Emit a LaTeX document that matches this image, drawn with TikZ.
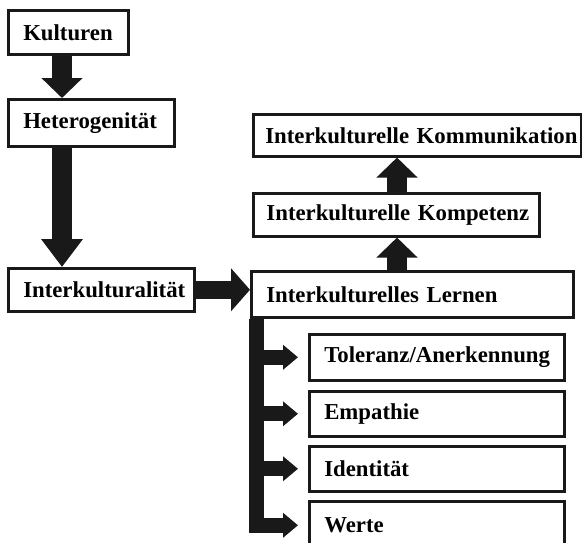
\documentclass[tikz,border=0pt]{standalone}
\usepackage{fontspec}
\setmainfont{Liberation Serif}
\usetikzlibrary{arrows.meta,calc}

\begin{document}
\begin{tikzpicture}[x=0.025cm, y=-0.025cm,
    box/.style={draw=black!90, line width=1.8pt, anchor=north west, align=left,
        inner xsep=0.375cm, inner ysep=0pt, font=\fontsize{16.2}{18}\selectfont\bfseries,
        execute at begin node={\hbox\bgroup}, execute at end node={\egroup}},
    fat/.style={draw=black!90, line width=0.5cm, -{Triangle[width=1cm,length=0.5cm]}},
    slim/.style={draw=black!90, line width=0.375cm, -{Triangle[width=0.6cm,length=0.375cm]}}]
    \useasboundingbox (0,0) rectangle (582,542);

    % Left column
    \node[box, text width=2.25cm, minimum height=1.1cm] (kult) at (7,9) {Kulturen};
    \node[box, text width=3.4cm, minimum height=1.175cm] (het) at (7,98) {Heterogenität};
    \node[box, text width=3.9cm, minimum height=1.075cm] (ikult) at (7,267) {Interkulturalität};

    % Right column
    \node[box, text width=7.6cm, inner xsep=0.3cm, minimum height=1.05cm] (komm) at (252,113) {Interkulturelle Kommunikation};
    \node[box, text width=6.5cm, inner xsep=0.33cm, minimum height=1.075cm] (komp) at (252,192) {Interkulturelle Kompetenz};
    \node[box, text width=7.3cm, minimum height=1.15cm] (lern) at (250,270) {Interkulturelles Lernen};

    % Aspects
    \node[box, text width=5.625cm, minimum height=1.15cm] (tol) at (308,333) {Toleranz/Anerkennung};
    \node[box, text width=5.625cm, minimum height=1.125cm] (emp) at (308,390) {Empathie};
    \node[box, text width=5.625cm, minimum height=1.125cm] (ident) at (308,445) {Identität};
    \node[box, text width=5.625cm, minimum height=1.2cm] (wert) at (308,500) {Werte};

    % Arrows
    \coordinate (spine) at (62,0);
    \coordinate (riser) at (397,0);
    \coordinate (bar) at (256,0);
    \draw[fat] (spine |- kult.south) -- (spine |- het.north);
    \draw[fat, -{Triangle[width=1cm,length=0.7cm]}] (spine |- het.south) -- (spine |- ikult.north);
    \draw[fat, line width=0.45cm, -{Triangle[width=1.05cm,length=0.475cm]}] (ikult.east) -- (ikult.east -| lern.west);
    \draw[fat] (riser |- lern.north) -- (riser |- komp.south);
    \draw[fat] (riser |- komp.north) -- (riser |- komm.south);

    % Branches to the aspects
    \draw[slim] (bar |- lern.south) |- ($(tol.west)+(-10,0)$);
    \draw[slim] (bar |- tol.west) |- ($(emp.west)+(-10,0)$);
    \draw[slim] (bar |- emp.west) |- ($(ident.west)+(-10,0)$);
    \draw[slim] (bar |- ident.west) |- ($(wert.west)+(-10,0)$);
\end{tikzpicture}
\end{document}
